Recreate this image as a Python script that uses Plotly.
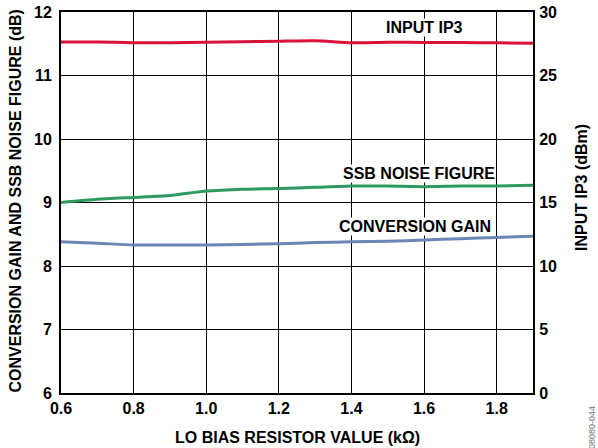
import plotly.graph_objects as go

resistor_kohm = [0.6, 0.7, 0.8, 0.9, 1.0, 1.1, 1.2, 1.3, 1.4, 1.5, 1.6, 1.7, 1.8, 1.9]
input_ip3_dbm = [27.64, 27.64, 27.58, 27.58, 27.62, 27.66, 27.70, 27.74, 27.58, 27.62, 27.60, 27.60, 27.57, 27.54]
ssb_nf_db = [9.00, 9.05, 9.08, 9.11, 9.18, 9.21, 9.22, 9.24, 9.26, 9.26, 9.25, 9.26, 9.26, 9.27]
conv_gain_db = [8.38, 8.36, 8.33, 8.33, 8.33, 8.34, 8.35, 8.37, 8.38, 8.39, 8.41, 8.43, 8.45, 8.47]

x_ticks = [0.6, 0.8, 1.0, 1.2, 1.4, 1.6, 1.8]
x_ticklabels = ["0.6", "0.8", "1.0", "1.2", "1.4", "1.6", "1.8"]
y_ticks = [6, 7, 8, 9, 10, 11, 12]
y2_ticks = [0, 5, 10, 15, 20, 25, 30]

FONT = "Liberation Sans, Arial, sans-serif"
W, H = 598, 448
L, T = 61, 12
PW, PH = 472, 381
R, B = W - L - PW, H - T - PH

fig = go.Figure()
fig.add_trace(go.Scatter(x=resistor_kohm, y=ssb_nf_db, mode="lines",
                         line=dict(color="#2e9a62", width=3, shape="spline", smoothing=0.6),
                         showlegend=False))
fig.add_trace(go.Scatter(x=resistor_kohm, y=conv_gain_db, mode="lines",
                         line=dict(color="#6d86b6", width=3, shape="spline", smoothing=0.6),
                         showlegend=False))
fig.add_trace(go.Scatter(x=resistor_kohm, y=input_ip3_dbm, mode="lines", yaxis="y2",
                         line=dict(color="#d8143a", width=3, shape="spline", smoothing=0.6),
                         showlegend=False))

tickfont = dict(family=FONT, size=16, color="#000000")

fig.update_layout(
    width=W, height=H,
    margin=dict(l=L, r=R, t=T, b=B, autoexpand=False),
    paper_bgcolor="white", plot_bgcolor="white",
    font=dict(family=FONT, color="#000000"),
    xaxis=dict(range=[0.6, 1.9], tickvals=x_ticks, ticktext=[f"<b>{t}</b>" for t in x_ticklabels],
               showgrid=True, gridcolor="#000000", gridwidth=1,
               showline=True, linecolor="#000000", linewidth=2, mirror=True,
               ticks="", zeroline=False, tickfont=tickfont, automargin=False),
    yaxis=dict(range=[6, 12], tickvals=y_ticks, ticktext=[f"<b>{v}</b>" for v in y_ticks],
               showgrid=True, gridcolor="#000000", gridwidth=1,
               showline=True, linecolor="#000000", linewidth=2, mirror=True,
               ticks="", zeroline=False, tickfont=tickfont, automargin=False,
               ticklabelstandoff=4),
    yaxis2=dict(range=[0, 30], tickvals=y2_ticks, ticktext=[f"<b>{v}</b>" for v in y2_ticks],
                overlaying="y", side="right", showgrid=False, zeroline=False,
                showline=True, linecolor="#000000", linewidth=2, ticks="", tickfont=tickfont,
                automargin=False, ticklabelstandoff=1),
)

def px_x(px):
    return (px - L) / PW

def px_y(py):
    return (T + PH - py) / PH

ann_font = dict(family=FONT, size=16, color="#000000")
for xv, yv, txt in [(1.6, 11.76, "INPUT IP3"), (1.585, 9.46, "SSB NOISE FIGURE"),
                    (1.575, 8.63, "CONVERSION GAIN")]:
    fig.add_annotation(x=xv, y=yv, xref="x", yref="y", text=f"<b>{txt}</b>", showarrow=False,
                       font=ann_font, bgcolor="white", borderpad=0,
                       xanchor="center", yanchor="middle")

# axis titles
fig.add_annotation(x=px_x(297), y=px_y(437), xref="paper", yref="paper",
                   xanchor="center", yanchor="middle",
                   text="<b>LO BIAS RESISTOR VALUE (kΩ)</b>", showarrow=False, font=ann_font)
fig.add_annotation(x=px_x(14.5), y=px_y(201), xref="paper", yref="paper", textangle=-90,
                   xanchor="center", yanchor="middle",
                   text="<b>CONVERSION GAIN AND SSB NOISE FIGURE (dB)</b>", showarrow=False, font=ann_font)
fig.add_annotation(x=px_x(581), y=px_y(188), xref="paper", yref="paper", textangle=-90,
                   xanchor="center", yanchor="middle",
                   text="<b>INPUT IP3 (dBm)</b>", showarrow=False, font=ann_font)

# figure id watermark
fig.add_annotation(x=px_x(592), y=px_y(428), xref="paper", yref="paper", textangle=-90,
                   xanchor="center", yanchor="middle",
                   text="08080-044", showarrow=False,
                   font=dict(family=FONT, size=9, color="#777777"))

fig.write_html("out.html",
               config={"displayModeBar": False, "staticPlot": True},
               post_script="document.body.style.margin='0';document.documentElement.style.overflow='hidden';")
